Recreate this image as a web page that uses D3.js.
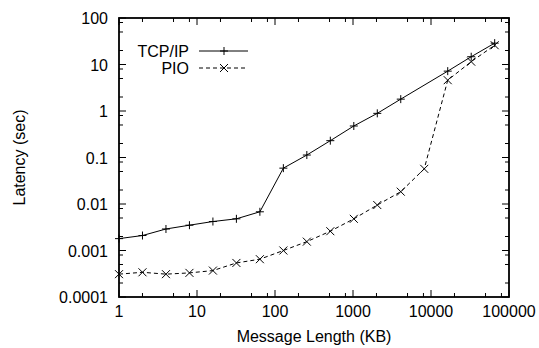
<!DOCTYPE html>
<html><head><meta charset="utf-8">
<script src="https://cdn.jsdelivr.net/npm/d3@7"></script>
<style>body{margin:0;background:#fff}svg{display:block}text{font-family:"Liberation Sans",Arial,sans-serif;font-size:16px;fill:#000}</style>
</head><body><svg id="c" width="539" height="348"></svg>
<script>
const sizes = [1,2,4,8,16,32,64,128,256,512,1024,2048,4096,8192,16384,32768,65536];
const tcpSizes = [1,2,4,8,16,32,64,128,256,512,1024,2048,4096,16384,32768,65536];
const tcpLatency = [0.0018,0.0021,0.0029,0.0035,0.0042,0.0048,0.0068,0.059,0.113,0.23,0.476,0.89,1.8,7.2,14.7,28.8];
const pioSizes = [1,2,4,8,16,32,64,128,256,512,1024,2048,4096,8192,16384,32768,65536];
const pioLatency = [0.00031,0.00034,0.00031,0.00033,0.00037,0.00054,0.00065,0.001,0.00155,0.0026,0.0048,0.0095,0.0184,0.057,4.6,11.5,26];
const xTicks = [1,10,100,1000,10000,100000];
const xTickLabels = ["1","10","100","1000","10000","100000"];
const yTicks = [0.0001,0.001,0.01,0.1,1,10,100];
const yTickLabels = ["0.0001","0.001","0.01","0.1","1","10","100"];
const seriesNames = ["TCP/IP","PIO"];

const L=119,R=509,T=18,B=297;
const svg=d3.select("#c");
const x=d3.scaleLog().domain([1,100000]).range([L,R]);
const y=d3.scaleLog().domain([0.0001,100]).range([B,T]);

// minor ticks (2,5,8 per decade visible)
const minorX=[], minorY=[];
xTicks.slice(0,-1).forEach(d=>[2,5,8].forEach(m=>minorX.push(d*m)));
yTicks.slice(0,-1).forEach(d=>[2,5,8].forEach(m=>minorY.push(d*m)));

const g=svg.append("g");
const maj=7, mn=4;
function tickLines(vals,len,axis){
  vals.forEach(v=>{
    if(axis==="x"){
      const px=x(v);
      g.append("line").attr("x1",px).attr("x2",px).attr("y1",B).attr("y2",B-len).attr("stroke","#000");
      g.append("line").attr("x1",px).attr("x2",px).attr("y1",T).attr("y2",T+len).attr("stroke","#000");
    } else {
      const py=y(v);
      g.append("line").attr("y1",py).attr("y2",py).attr("x1",L).attr("x2",L+len).attr("stroke","#000");
      g.append("line").attr("y1",py).attr("y2",py).attr("x1",R).attr("x2",R-len).attr("stroke","#000");
    }
  });
}
tickLines(xTicks,maj,"x"); tickLines(minorX,mn,"x");
tickLines(yTicks,maj,"y"); tickLines(minorY,mn,"y");

// tick labels
xTicks.forEach((v,i)=>g.append("text").attr("x",x(v)).attr("y",317).attr("text-anchor","middle").text(xTickLabels[i]));
yTicks.forEach((v,i)=>g.append("text").attr("x",108).attr("y",y(v)+6).attr("text-anchor","end").text(yTickLabels[i]));

// frame
g.append("rect").attr("x",L).attr("y",T).attr("width",R-L).attr("height",B-T).attr("fill","none").attr("stroke","#000").attr("stroke-width",1.8);

// axis titles
g.append("text").attr("x",(L+R)/2).attr("y",342).attr("text-anchor","middle").text("Message Length (KB)");
g.append("text").attr("transform",`translate(25,${(T+B)/2}) rotate(-90)`).attr("text-anchor","middle").text("Latency (sec)");

const line=d3.line().x(d=>x(d[0])).y(d=>y(d[1]));
const tcp=tcpSizes.map((s,i)=>[s,tcpLatency[i]]);
const pio=pioSizes.map((s,i)=>[s,pioLatency[i]]);
const s=4;
function plus(sel,cx,cy){sel.append("path").attr("d",`M${cx-s},${cy}H${cx+s}M${cx},${cy-s}V${cy+s}`).attr("stroke","#000").attr("fill","none");}
function cross(sel,cx,cy){sel.append("path").attr("d",`M${cx-s},${cy-s}L${cx+s},${cy+s}M${cx-s},${cy+s}L${cx+s},${cy-s}`).attr("stroke","#000").attr("fill","none");}

g.append("path").datum(tcp).attr("d",line).attr("fill","none").attr("stroke","#000").attr("stroke-width",1);
g.append("path").datum(pio).attr("d",line).attr("fill","none").attr("stroke","#000").attr("stroke-width",1).attr("stroke-dasharray","4,3");
tcp.forEach(d=>plus(g,x(d[0]),y(d[1])));
pio.forEach(d=>cross(g,x(d[0]),y(d[1])));

// legend
const ly=[51,68];
seriesNames.forEach((n,i)=>{
  g.append("text").attr("x",189).attr("y",ly[i]+6).attr("text-anchor","end").text(n);
  const ln=g.append("line").attr("x1",199).attr("x2",248).attr("y1",ly[i]).attr("y2",ly[i]).attr("stroke","#000");
  if(i===1) ln.attr("stroke-dasharray","4,3");
  if(i===0) plus(g,224,ly[i]); else cross(g,224,ly[i]);
});
</script></body></html>
